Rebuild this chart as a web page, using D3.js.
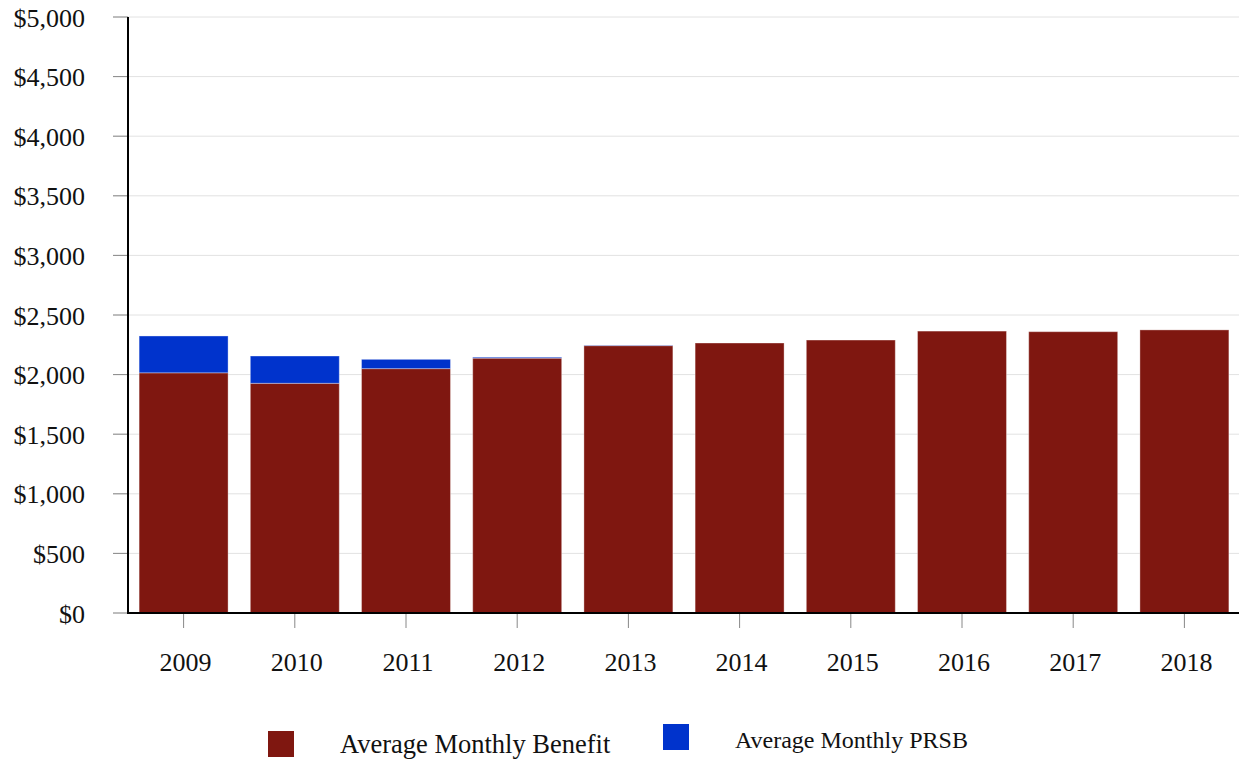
<!DOCTYPE html>
<html>
<head>
<meta charset="utf-8">
<script src="https://cdn.jsdelivr.net/npm/d3@7"></script>
<style>
  body { margin: 0; background: #fff; }
  text { font-family: "Liberation Serif", "DejaVu Serif", serif; fill: #111; }
</style>
</head>
<body>
<svg width="1239" height="761"></svg>
<script>
const years = ['2009', '2010', '2011', '2012', '2013', '2014', '2015', '2016', '2017', '2018'];
const benefit = [2015, 1927, 2050, 2138, 2243, 2265, 2290, 2365, 2360, 2375];
const prsb = [309, 229, 78, 8, 3, 0, 0, 0, 0, 0];
const yTicks = [0, 500, 1000, 1500, 2000, 2500, 3000, 3500, 4000, 4500, 5000];
const seriesNames = ['Average Monthly Benefit', 'Average Monthly PRSB'];
const colors = ['#7f1710', '#0033cc'];

const svg = d3.select('svg');
const plotLeft = 128, plotRight = 1240, plotTop = 17, plotBottom = 613;

const x = d3.scaleBand().domain(years).range([plotLeft, plotRight]).paddingInner(0.2).paddingOuter(0.1);
const y = d3.scaleLinear().domain([0, 5000]).range([plotBottom, plotTop]);

// gridlines
svg.append('g')
  .selectAll('line')
  .data(yTicks)
  .enter().append('line')
  .attr('x1', plotLeft - 15)
  .attr('x2', plotRight)
  .attr('y1', d => y(d))
  .attr('y2', d => y(d))
  .attr('stroke', '#e2e2e2')
  .attr('stroke-width', 1);

// y tick marks
svg.append('g')
  .selectAll('line')
  .data(yTicks)
  .enter().append('line')
  .attr('x1', plotLeft - 15)
  .attr('x2', plotLeft)
  .attr('y1', d => y(d))
  .attr('y2', d => y(d))
  .attr('stroke', '#888')
  .attr('stroke-width', 1);

// y labels
svg.append('g')
  .selectAll('text')
  .data(yTicks)
  .enter().append('text')
  .attr('x', 85)
  .attr('y', d => y(d) + 9.5)
  .attr('text-anchor', 'end')
  .attr('font-size', 26)
  .text(d => '$' + d3.format(',')(d));

// bars
const rows = years.map((yr, i) => ({ year: yr, benefit: benefit[i], prsb: prsb[i] }));
const stack = d3.stack().keys(['benefit', 'prsb'])(rows);

svg.append('g')
  .selectAll('g')
  .data(stack)
  .enter().append('g')
  .attr('fill', (d, i) => colors[i])
  .selectAll('rect')
  .data(d => d.filter(s => s[1] > s[0]))
  .enter().append('rect')
  .attr('x', d => x(d.data.year))
  .attr('width', x.bandwidth())
  .attr('y', d => y(d[1]))
  .attr('height', d => y(d[0]) - y(d[1]))
  .attr('stroke', '#ffffff')
  .attr('stroke-opacity', 0.35)
  .attr('stroke-width', 1);

// x tick marks
svg.append('g')
  .selectAll('line')
  .data(years)
  .enter().append('line')
  .attr('x1', d => x(d) + x.bandwidth() / 2)
  .attr('x2', d => x(d) + x.bandwidth() / 2)
  .attr('y1', plotBottom)
  .attr('y2', plotBottom + 15)
  .attr('stroke', '#888')
  .attr('stroke-width', 1);

// x labels
svg.append('g')
  .selectAll('text')
  .data(years)
  .enter().append('text')
  .attr('x', d => x(d) + x.bandwidth() / 2 + 2)
  .attr('y', 671)
  .attr('text-anchor', 'middle')
  .attr('font-size', 26)
  .text(d => d);

// axis lines
svg.append('line')
  .attr('x1', plotLeft).attr('x2', plotLeft)
  .attr('y1', plotTop).attr('y2', plotBottom + 1)
  .attr('stroke', '#000').attr('stroke-width', 2);
svg.append('line')
  .attr('x1', plotLeft).attr('x2', plotRight)
  .attr('y1', plotBottom).attr('y2', plotBottom)
  .attr('stroke', '#000').attr('stroke-width', 2);

// legend
const legend = [
  { sx: 268, sy: 731, tx: 340, ty: 753, size: 26.5 },
  { sx: 663, sy: 724, tx: 735, ty: 748, size: 24 }
];
const lg = svg.append('g')
  .selectAll('g')
  .data(legend)
  .enter().append('g');
lg.append('rect')
  .attr('x', d => d.sx)
  .attr('y', d => d.sy)
  .attr('width', 26)
  .attr('height', 26)
  .attr('fill', (d, i) => colors[i]);
lg.append('text')
  .attr('x', d => d.tx)
  .attr('y', d => d.ty)
  .attr('font-size', d => d.size)
  .text((d, i) => seriesNames[i]);
</script>
</body>
</html>
